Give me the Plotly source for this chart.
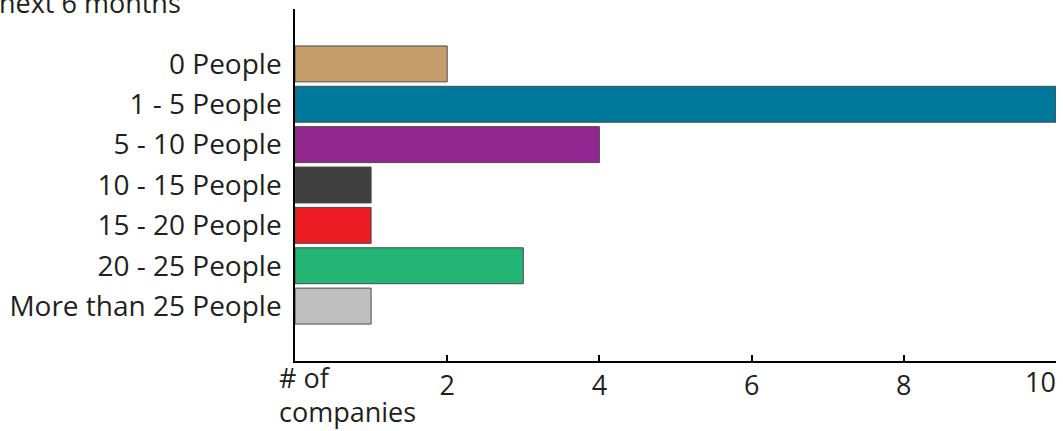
import plotly.graph_objects as go

categories = ["0 People", "1 - 5 People", "5 - 10 People", "10 - 15 People",
              "15 - 20 People", "20 - 25 People", "More than 25 People"]
counts = [2, 10, 4, 1, 1, 3, 1]
bar_colors = ["#C69C6D", "#00789C", "#92278F", "#404040", "#ED1C24", "#23B573", "#BFBFBF"]
x_tickvals = [0, 2, 4, 6, 8, 10]
x_ticktext = ["", "2", "4", "6", "8", ""]

FONT = "Open Sans"
TXT = "#231F20"
fig = go.Figure(go.Bar(
    x=counts, y=categories, orientation="h",
    marker=dict(color=bar_colors, line=dict(color="#4a4a4a", width=1)),
))

fig.update_layout(
    width=1063, height=431,
    margin=dict(l=295, r=7, t=9, b=70),
    paper_bgcolor="white", plot_bgcolor="white",
    bargap=0.11,
    showlegend=False,
    font=dict(family=FONT, size=27, color=TXT),
    xaxis=dict(range=[0, 10], tickvals=x_tickvals, ticktext=x_ticktext,
               showgrid=False, zeroline=False, showline=True, linecolor="black",
               linewidth=1.5, ticks="inside", ticklen=6, tickcolor="black", tickwidth=1.5,
               tickfont=dict(family=FONT, size=27, color=TXT)),
    yaxis=dict(type="category", range=[7.36, -1.36], showgrid=False, zeroline=False,
               showline=True, linecolor="black", linewidth=1.5, ticks="",
               ticklabelstandoff=6,
               tickfont=dict(family=FONT, size=28, color=TXT)),
    annotations=[
        dict(text="# of", xref="paper", yref="paper", x=0, y=0,
             xanchor="left", yanchor="top", xshift=-17, yshift=3, align="left",
             showarrow=False, borderpad=0, font=dict(family=FONT, size=27, color=TXT)),
        dict(text="companies", xref="paper", yref="paper", x=0, y=0,
             xanchor="left", yanchor="bottom", xshift=-17, yshift=-70, align="left",
             showarrow=False, borderpad=0, font=dict(family=FONT, size=27, color=TXT)),
        dict(text="10", xref="paper", yref="paper", x=1, y=0,
             xanchor="right", yanchor="top", xshift=1, yshift=-1, borderpad=0,
             showarrow=False, font=dict(family=FONT, size=27, color=TXT)),
        dict(text="next 6 months", xref="paper", yref="paper", x=0, y=1,
             xanchor="left", yanchor="bottom", xshift=-298, yshift=-14, align="left",
             showarrow=False, font=dict(family=FONT, size=27, color=TXT)),
    ],
)

fig.write_html("out.html")
